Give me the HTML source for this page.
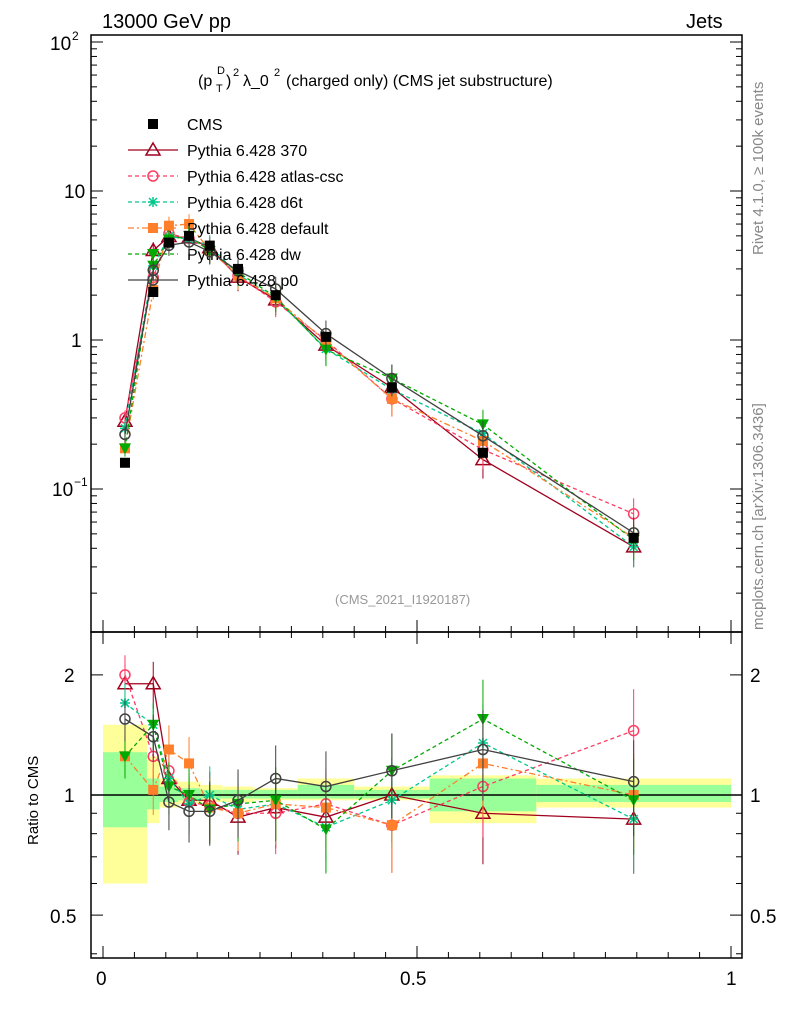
<!DOCTYPE html>
<html><head><meta charset="utf-8"><style>
body{margin:0;background:#fff;font-family:"Liberation Sans",sans-serif}
svg text{font-family:"Liberation Sans",sans-serif}
</style></head><body>
<svg id="c" width="786" height="1024" viewBox="0 0 786 1024"></svg>
<script>
const xc=[0.035,0.08,0.105,0.137,0.17,0.215,0.275,0.355,0.46,0.605,0.845];
const edges=[0,0.07,0.09,0.12,0.155,0.19,0.24,0.31,0.40,0.52,0.69,1.0];
const cms=[0.15,2.1,4.5,5.0,4.3,3.0,2.0,1.05,0.48,0.175,0.047];
const bandYlo=[0.6,0.85,0.93,0.95,0.96,0.96,0.97,0.97,0.97,0.85,0.93];
const bandYhi=[1.5,1.25,1.1,1.08,1.06,1.05,1.04,1.1,1.05,1.12,1.1];
const bandGlo=[0.83,0.92,0.96,0.97,0.98,0.98,0.98,0.98,0.98,0.91,0.96];
const bandGhi=[1.28,1.1,1.05,1.04,1.03,1.03,1.03,1.06,1.03,1.1,1.06];
const r370=[1.9,1.9,1.1,0.97,0.97,0.88,0.93,0.88,1.0,0.9,0.87];
const rAtlas=[2.0,1.25,1.15,0.96,0.94,0.9,0.9,0.95,0.84,1.05,1.45];
const rD6t=[1.7,1.5,1.1,0.95,1.0,0.92,0.95,0.83,0.97,1.35,0.87];
const rDef=[1.25,1.03,1.3,1.2,0.93,0.9,0.95,0.93,0.84,1.2,1.0];
const rDw=[1.25,1.5,1.05,1.0,0.92,0.95,0.97,0.82,1.15,1.55,0.97];
const rP0=[1.55,1.4,0.96,0.91,0.91,0.97,1.1,1.05,1.15,1.3,1.08];
const series=[
 {n:'Pythia 6.428 370',r:r370,c:'#a0001e',d:'',m:'tri'},
 {n:'Pythia 6.428 atlas-csc',r:rAtlas,c:'#ff3c64',d:'4,3',m:'circ'},
 {n:'Pythia 6.428 d6t',r:rD6t,c:'#00c88c',d:'4,3',m:'star'},
 {n:'Pythia 6.428 default',r:rDef,c:'#ff7f2a',d:'6,3,2,3',m:'sq'},
 {n:'Pythia 6.428 dw',r:rDw,c:'#00aa00',d:'4,3',m:'dtri'},
 {n:'Pythia 6.428 p0',r:rP0,c:'#404040',d:'',m:'circ'}];
const S=document.getElementById('c'),NS='http://www.w3.org/2000/svg';
function el(t,a,p){const e=document.createElementNS(NS,t);for(const k in a)e.setAttribute(k,a[k]);(p||S).appendChild(e);return e;}
const X=v=>103+628*v;
const Y=v=>340-149*Math.log10(v);
const R=v=>795-399*Math.log10(v);
function tx(x,y,s,o){const e=el('text',Object.assign({x:x,y:y,'font-size':18,fill:'#000'},o||{}));e.textContent=s;return e;}
for(let i=0;i<xc.length;i++){
 let b=el('rect',{x:X(edges[i]),y:R(bandYhi[i]),width:X(edges[i+1])-X(edges[i]),height:R(bandYlo[i])-R(bandYhi[i]),fill:'#ffff99'});
 
 let g=el('rect',{x:X(edges[i]),y:R(bandGhi[i]),width:X(edges[i+1])-X(edges[i]),height:R(bandGlo[i])-R(bandGhi[i]),fill:'#99ff99'});
 
}
el('line',{x1:91,x2:742,y1:795,y2:795,stroke:'#000','stroke-width':1.5});
el('rect',{x:91,y:35,width:651,height:597,fill:'none',stroke:'#000','stroke-width':1.5});
el('rect',{x:91,y:632,width:651,height:326,fill:'none',stroke:'#000','stroke-width':1.5});
for(let d=-2;d<=2;d++)for(let k=1;k<10;k++){const v=k*Math.pow(10,d);const y=Y(v);if(y<35||y>632)continue;const L=k==1?12:6;
 el('line',{x1:91,x2:91+L,y1:y,y2:y,stroke:'#000'});el('line',{x1:742,x2:742-L,y1:y,y2:y,stroke:'#000'});}
for(let d=-1;d<=0;d++)for(let k=1;k<10;k++){const v=k*Math.pow(10,d);const y=R(v);if(y<632||y>958)continue;const L=(v==0.5||v==1||v==2)?12:6;
 el('line',{x1:91,x2:91+L,y1:y,y2:y,stroke:'#000'});el('line',{x1:742,x2:742-L,y1:y,y2:y,stroke:'#000'});}
for(let v=0;v<=1.0001;v+=0.05){const x=X(v);const L=Math.abs(v*10-Math.round(v*10))<1e-6&&Math.round(v*10)%5==0?12:6;
 el('line',{x1:x,x2:x,y1:958,y2:958-L,stroke:'#000'});el('line',{x1:x,x2:x,y1:632,y2:632+L,stroke:'#000'});el('line',{x1:x,x2:x,y1:632,y2:632-L,stroke:'#000'});}
tx(50,50,'10',{'font-size':19});tx(72,40,'2',{'font-size':12});tx(64,198,'10',{'font-size':19});tx(71,347,'1',{'font-size':19});tx(52,496,'10',{'font-size':19});tx(74,486,'−1',{'font-size':12});
tx(64,682,'2',{'font-size':19});tx(64,802,'1',{'font-size':19});tx(50,923,'0.5',{'font-size':19});tx(750,682,'2',{'font-size':19});tx(750,802,'1',{'font-size':19});tx(750,923,'0.5',{'font-size':19});
tx(96,985,'0',{'font-size':19});tx(400,985,'0.5',{'font-size':19});tx(726,985,'1',{'font-size':19});
tx(102,28,'13000 GeV pp',{'font-size':20});tx(686,28,'Jets',{'font-size':20});
tx(198,86,'(p',{'font-size':16});tx(216,92,'T',{'font-size':11});tx(217,74,'D',{'font-size':11});tx(226,86,')',{'font-size':16});tx(233,76,'2',{'font-size':11});
tx(243,86,'λ_0',{'font-size':16});tx(274,76,'2',{'font-size':11});tx(286,86,'(charged only) (CMS jet substructure)',{'font-size':16});
tx(335,604,'(CMS_2021_I1920187)',{'font-size':13,fill:'#999'});
tx(0,0,'Ratio to CMS',{'font-size':15,transform:'translate(38,845) rotate(-90)'});
tx(0,0,'Rivet 4.1.0, ≥ 100k events',{'font-size':15,fill:'#888',transform:'translate(763,255) rotate(-90)'});
tx(0,0,'mcplots.cern.ch [arXiv:1306.3436]',{'font-size':15,fill:'#888',transform:'translate(763,630) rotate(-90)'});
function marker(m,x,y,c,p){
 if(m=='tri')el('path',{d:`M${x},${y-7}L${x+7},${y+5}L${x-7},${y+5}Z`,fill:'none',stroke:c,'stroke-width':1.5},p);
 else if(m=='dtri')el('path',{d:`M${x},${y+6}L${x+6},${y-5}L${x-6},${y-5}Z`,fill:c},p);
 else if(m=='circ')el('circle',{cx:x,cy:y,r:5,fill:'none',stroke:c,'stroke-width':1.5},p);
 else if(m=='sq')el('rect',{x:x-5,y:y-5,width:10,height:10,fill:c},p);
 else if(m=='star'){el('path',{d:`M${x-5},${y}h10M${x},${y-5}v10M${x-4},${y-4}l8,8M${x+4},${y-4}l-8,8`,stroke:c,'stroke-width':1.5},p);}
 else if(m=='cms')el('rect',{x:x-5,y:y-5,width:10,height:10,fill:'#000'},p);
}
series.forEach((s,si)=>{
 const g=el('g',{});
 
 
 const vals=s.r.map((r,i)=>r*cms[i]);
 const a={fill:'none',stroke:s.c,'stroke-width':1.3};if(s.d)a['stroke-dasharray']=s.d;
 a.points=xc.map((x,i)=>X(x)+','+Y(vals[i])).join(' ');el('polyline',a,g);
 const b=Object.assign({},a);b.points=xc.map((x,i)=>X(x)+','+R(s.r[i])).join(' ');el('polyline',b,g);
 xc.forEach((x,i)=>{const e=0.12+i*0.015;
  el('line',{x1:X(x),x2:X(x),y1:Y(vals[i]*(1+e)),y2:Y(vals[i]*(1-e)),stroke:s.c},g);
  el('line',{x1:X(x),x2:X(x),y1:R(s.r[i]*(1+e)),y2:R(s.r[i]*(1-e)),stroke:s.c},g);
  marker(s.m,X(x),Y(vals[i]),s.c,g);marker(s.m,X(x),R(s.r[i]),s.c,g);});
 const ly=150+26*si;const la={x1:128,x2:178,y1:ly,y2:ly,stroke:s.c,'stroke-width':1.3};if(s.d)la['stroke-dasharray']=s.d;
 el('line',la,g);marker(s.m,153,ly,s.c,g);
 const t=tx(187,ly+6,s.n,{'font-size':16});
 
 
});
const cg=el('g',{});


xc.forEach((x,i)=>marker('cms',X(x),Y(cms[i]),'#000',cg));
marker('cms',153,124,'#000',cg);tx(187,130,'CMS',{'font-size':16});
</script>
</body></html>
